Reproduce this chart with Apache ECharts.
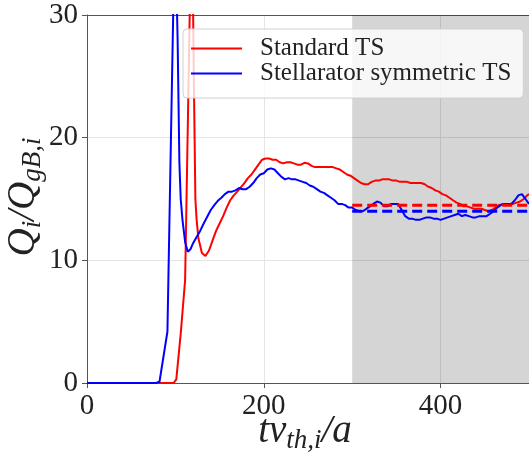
<!DOCTYPE html>
<html>
<head>
<meta charset="utf-8">
<script src="https://cdn.jsdelivr.net/npm/echarts@6/dist/echarts.min.js"></script>
<style>
html,body{margin:0;padding:0;background:#fff;}
#c{width:529px;height:458px;}
</style>
</head>
<body>
<div id="c"></div>
<script>
// ---- data ----
const seriesNames = ['Standard TS', 'Stellarator symmetric TS'];
const xTicks = [0, 200, 400];
const yTicks = [0, 10, 20, 30];

const redX = [0, 98, 101, 106, 111, 115, 118.5, 121, 122.6, 124, 126, 130, 134, 138, 142, 146, 150, 154, 158, 162, 166, 170, 174, 178, 182, 186, 190, 194, 198, 202, 206, 210, 214, 218, 222, 226, 230, 234, 238, 242, 246, 250, 254, 258, 262, 266, 270, 274, 278, 282, 286, 290, 294, 298, 302, 306, 310, 314, 318, 322, 326, 330, 334, 338, 342, 346, 350, 354, 358, 362, 366, 370, 374, 378, 382, 386, 390, 394, 398, 402, 406, 410, 414, 418, 422, 426, 430, 434, 438, 442, 446, 450, 454, 458, 462, 466, 470, 474, 478, 482, 486, 490, 494, 498, 500];
const redY = [0, 0, 0.3, 4.0, 8.4, 25, 40, 24, 15, 13.3, 11.8, 10.6, 10.35, 10.8, 11.6, 12.4, 13.0, 13.6, 14.3, 14.9, 15.3, 15.6, 15.95, 16.3, 16.7, 17.0, 17.4, 17.8, 18.2, 18.3, 18.3, 18.2, 18.2, 18.0, 17.9, 18.0, 18.0, 17.9, 17.8, 17.8, 17.95, 17.9, 17.7, 17.6, 17.6, 17.6, 17.6, 17.6, 17.6, 17.5, 17.4, 17.2, 17.0, 16.9, 16.7, 16.5, 16.3, 16.2, 16.2, 16.4, 16.5, 16.5, 16.6, 16.6, 16.6, 16.5, 16.5, 16.4, 16.4, 16.4, 16.3, 16.3, 16.3, 16.3, 16.2, 16.0, 15.9, 15.7, 15.6, 15.4, 15.3, 15.1, 14.9, 14.7, 14.6, 14.4, 14.4, 14.3, 14.2, 14.2, 14.2, 14.1, 14.0, 14.1, 14.3, 14.5, 14.6, 14.6, 14.6, 14.6, 14.7, 14.8, 15.0, 15.3, 15.4];

const blueX = [0, 78, 82, 91, 99.5, 102.5, 104.5, 106, 108, 111, 114, 117, 120, 124, 128, 132, 136, 140, 144, 148, 152, 156, 160, 164, 168, 172, 176, 180, 184, 188, 192, 196, 200, 204, 208, 212, 216, 220, 224, 228, 232, 236, 240, 244, 248, 252, 256, 260, 264, 268, 272, 276, 280, 284, 288, 292, 296, 300, 304, 308, 312, 316, 320, 324, 328, 332, 336, 340, 344, 348, 352, 356, 360, 364, 368, 372, 376, 380, 384, 388, 392, 396, 400, 404, 408, 412, 416, 420, 424, 428, 432, 436, 440, 444, 448, 452, 456, 460, 464, 468, 472, 476, 480, 484, 488, 492, 496, 500];
const blueY = [0, 0, 0.1, 4.2, 38, 28, 18, 15, 13.3, 11.5, 10.7, 10.9, 11.4, 11.9, 12.4, 13.0, 13.55, 14.1, 14.5, 14.85, 15.1, 15.4, 15.6, 15.6, 15.7, 15.9, 15.8, 15.8, 16.0, 16.3, 16.7, 17.0, 17.1, 17.4, 17.5, 17.4, 17.1, 16.8, 16.6, 16.7, 16.6, 16.6, 16.5, 16.4, 16.3, 16.1, 16.0, 15.8, 15.6, 15.5, 15.3, 15.1, 14.9, 14.6, 14.6, 14.5, 14.3, 14.3, 14.1, 14.0, 14.0, 14.2, 14.4, 14.6, 14.8, 14.7, 14.4, 14.4, 14.6, 14.6, 14.6, 14.1, 13.6, 13.4, 13.4, 13.3, 13.3, 13.4, 13.5, 13.5, 13.4, 13.4, 13.3, 13.4, 13.5, 13.6, 13.7, 13.8, 13.6, 13.7, 13.6, 13.5, 13.5, 13.6, 13.6, 13.6, 13.8, 14.0, 14.3, 14.5, 14.6, 14.6, 14.6, 14.9, 15.3, 15.4, 15.0, 14.6];

const avgStart = 300, avgEnd = 500;
const redMean = 14.5;
const blueMean = 14.0;

const xLabelText = '{m|tv}{s|th,i}{m|/a}';
const yLabelText = '{m|Q}{s|i}{m|/Q}{s|gB,i}';

// ---- chart ----
const zip = (xs, ys) => xs.map((x, i) => [x, ys[i]]);
const serif = 'Liberation Serif';
const spine = '#555';
const ink = '#222';

const mathRich = {
  m: {fontFamily: serif, fontStyle: 'italic', fontSize: 39, lineHeight: 44, fill: ink, verticalAlign: 'middle'},
  s: {fontFamily: serif, fontStyle: 'italic', fontSize: 27, lineHeight: 27, fill: ink, verticalAlign: 'bottom'}
};

const chart = echarts.init(document.getElementById('c'), null, {renderer: 'canvas'});
chart.setOption({
  animation: false,
  backgroundColor: '#fff',
  textStyle: {fontFamily: serif},
  grid: {left: 87, right: 0, top: 15, bottom: 75, containLabel: false, outerBoundsMode: 'none'},
  graphic: [
    {type: 'text', x: 305, y: 432, z: 10, silent: true,
     style: {text: xLabelText, rich: mathRich, align: 'center', verticalAlign: 'middle'}},
    {type: 'text', x: 24, y: 197, rotation: Math.PI / 2, z: 10, silent: true,
     style: {text: yLabelText, rich: mathRich, align: 'center', verticalAlign: 'middle'}}
  ],
  legend: {
    data: seriesNames,
    orient: 'vertical',
    left: 183, top: 29,
    padding: [7, 12, 12, 8],
    itemGap: 0,
    icon: 'rect',
    itemWidth: 51, itemHeight: 2,
    backgroundColor: 'rgba(255,255,255,0.8)',
    borderColor: '#d0d0d0', borderWidth: 1, borderRadius: 4,
    textStyle: {fontFamily: serif, fontSize: 25, color: ink, lineHeight: 22, padding: [0, 0, 0, 13]}
  },
  xAxis: [{
    type: 'value', min: 0, max: 500, interval: 200,
    axisLine: {show: true, onZero: false, lineStyle: {color: spine, width: 1}},
    axisTick: {show: true, length: 5, lineStyle: {color: spine}},
    axisLabel: {fontFamily: serif, fontSize: 29, color: ink, margin: 9,
      formatter: v => xTicks.includes(v) ? String(v) : ''},
    splitLine: {show: true, lineStyle: {color: '#e4e4e4', width: 1}}
  }, {
    type: 'value', min: 0, max: 500, position: 'top',
    axisLine: {show: true, onZero: false, lineStyle: {color: spine, width: 1}},
    axisTick: {show: false}, axisLabel: {show: false}, splitLine: {show: false}
  }],
  yAxis: {
    type: 'value', min: 0, max: 30, interval: 10,
    axisLine: {show: true, onZero: false, lineStyle: {color: spine, width: 1}},
    axisTick: {show: true, length: 5, lineStyle: {color: spine}},
    axisLabel: {fontFamily: serif, fontSize: 29, color: ink, margin: 9,
      formatter: v => yTicks.includes(v) ? String(v) : ''},
    splitLine: {show: true, lineStyle: {color: '#e4e4e4', width: 1}}
  },
  series: [
    {
      name: 'shade', type: 'line', data: [], z: 1, silent: true,
      markArea: {silent: true, itemStyle: {color: 'rgba(0,0,0,0.165)'}, data: [[{xAxis: avgStart}, {xAxis: avgEnd}]]}
    },
    {
      name: seriesNames[0], type: 'line', data: zip(redX, redY), z: 3,
      symbol: 'none', lineStyle: {color: '#ff0000', width: 2}, itemStyle: {color: '#ff0000'}
    },
    {
      name: seriesNames[1], type: 'line', data: zip(blueX, blueY), z: 3,
      symbol: 'none', lineStyle: {color: '#0000ff', width: 2}, itemStyle: {color: '#0000ff'}
    },
    {
      name: 'red mean', type: 'line', data: [[avgStart, redMean], [avgEnd, redMean]], z: 4,
      symbol: 'none', lineStyle: {color: '#ff0000', width: 3, type: [10, 5]}
    },
    {
      name: 'blue mean', type: 'line', data: [[avgStart, blueMean], [avgEnd, blueMean]], z: 4,
      symbol: 'none', lineStyle: {color: '#0000ff', width: 3, type: [10, 5]}
    }
  ]
});
</script>
</body>
</html>
